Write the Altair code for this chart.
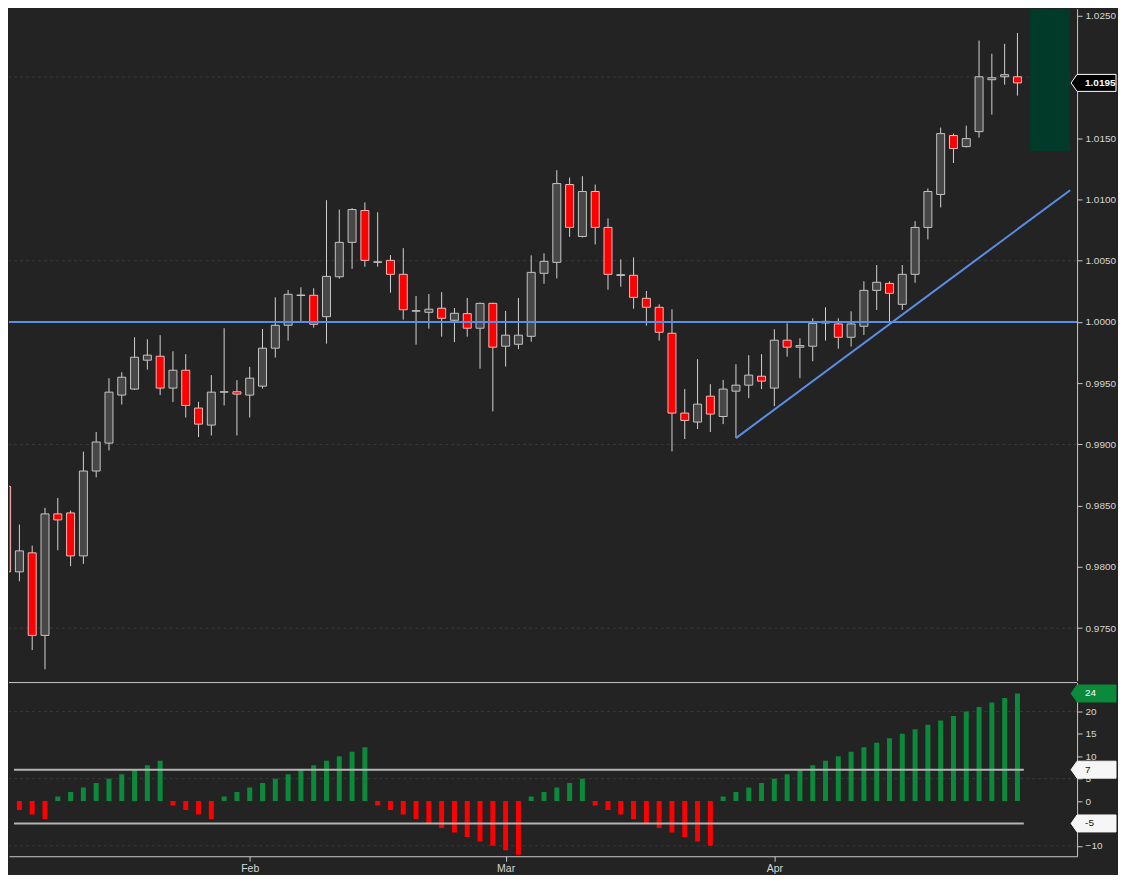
import altair as alt
import pandas as pd

# ---------------- data ----------------
opens = [0.98658, 0.97960, 0.98115, 0.97441, 0.98433, 0.98441, 0.98090, 0.98783, 0.99011, 0.99403,
         0.99452, 0.99688, 0.99720, 0.99460, 0.99606, 0.99297, 0.99158, 0.99427, 0.99430, 0.99403,
         0.99476, 0.99786, 0.99973, 1.00216, 1.00218, 1.00043, 1.00369, 1.00650, 1.00910, 1.00487,
         1.00503, 1.00389, 1.00088, 1.00079, 1.00112, 1.00014, 1.00068, 0.99949, 1.00152, 0.99802,
         0.99818, 0.99883, 1.00397, 1.00487, 1.01122, 1.00698, 1.01065, 1.00772, 1.00380, 1.00381,
         1.00193, 1.00120, 0.99908, 0.99256, 0.99183, 0.99394, 0.99228, 0.99435, 0.99484, 0.99557,
         0.99460, 0.99851, 0.99794, 0.99802, 0.99992, 0.99984, 0.99875, 0.99965, 1.00258, 1.00315,
         1.00144, 1.00389, 1.00772, 1.01041, 1.01522, 1.01432, 1.01554, 1.01978, 1.02002, 1.02002]
highs = [0.98712, 0.98346, 0.98174, 0.98482, 0.98563, 0.98460, 0.98941, 0.99101, 0.99541, 0.99590,
         0.99875, 0.99859, 0.99892, 0.99761, 0.99737, 0.99348, 0.99566, 0.99949, 0.99525, 0.99633,
         0.99943, 1.00201, 1.00261, 1.00283, 1.00275, 1.00994, 1.00918, 1.00929, 1.00976, 1.00896,
         1.00546, 1.00603, 1.00212, 1.00228, 1.00244, 1.00114, 1.00196, 1.00157, 1.00157, 1.00090,
         1.00196, 1.00544, 1.00560, 1.01239, 1.01179, 1.01190, 1.01122, 1.00845, 1.00511, 1.00527,
         1.00253, 1.00144, 1.00104, 0.99452, 0.99696, 0.99492, 0.99527, 0.99655, 0.99729, 0.99737,
         0.99941, 0.99989, 0.99867, 1.00030, 1.00120, 1.00030, 1.00087, 1.00332, 1.00465, 1.00332,
         1.00465, 1.00823, 1.01090, 1.01587, 1.01538, 1.01603, 1.02298, 1.02190, 1.02271, 1.02360]
lows = [0.97879, 0.97883, 0.97321, 0.97164, 0.98136, 0.98006, 0.98025, 0.98731, 0.98951, 0.99326,
        0.99446, 0.99611, 0.99403, 0.99346, 0.99220, 0.99060, 0.99073, 0.99318, 0.99073, 0.99220,
        0.99456, 0.99709, 0.99848, 0.99998, 0.99954, 0.99823, 1.00353, 1.00434, 1.00451, 1.00451,
        1.00239, 1.00019, 0.99815, 0.99945, 0.99880, 0.99835, 0.99880, 0.99619, 0.99269, 0.99636,
        0.99778, 0.99839, 1.00312, 1.00356, 1.00695, 1.00690, 1.00633, 1.00263, 1.00288, 1.00108,
        0.99970, 0.99848, 0.98943, 0.99044, 0.99126, 0.99101, 0.99166, 0.99052, 0.99378, 0.99452,
        0.99313, 0.99717, 0.99541, 0.99680, 0.99848, 0.99782, 0.99799, 0.99894, 1.00098, 0.99989,
        1.00098, 1.00320, 1.00674, 1.00935, 1.01298, 1.01425, 1.01505, 1.01693, 1.01937, 1.01848]
closes = [0.97960, 0.98131, 0.97441, 0.98433, 0.98384, 0.98090, 0.98783, 0.99020, 0.99427, 0.99549,
          0.99712, 0.99729, 0.99460, 0.99606, 0.99318, 0.99166, 0.99427, 0.99430, 0.99411, 0.99541,
          0.99786, 0.99973, 1.00226, 1.00220, 0.99981, 1.00372, 1.00650, 1.00918, 1.00503, 1.00491,
          1.00389, 1.00100, 1.00092, 1.00104, 1.00030, 1.00071, 0.99949, 1.00152, 0.99794, 0.99892,
          0.99892, 1.00405, 1.00495, 1.01130, 1.00772, 1.01065, 1.00772, 1.00389, 1.00386, 1.00201,
          1.00120, 0.99916, 0.99256, 0.99196, 0.99329, 0.99248, 0.99452, 0.99484, 0.99566, 0.99517,
          0.99851, 0.99794, 0.99807, 0.99989, 1.00005, 0.99875, 0.99984, 1.00258, 1.00324, 1.00234,
          1.00389, 1.00772, 1.01065, 1.01538, 1.01416, 1.01497, 1.02002, 1.01994, 1.02019, 1.01952]
hist = [-1, -2, -3, -4, 1, 2, 3, 4, 5, 6, 7, 8, 9, -1, -2, -3, -4, 1, 2, 3,
        4, 5, 6, 7, 8, 9, 10, 11, 12, -1, -2, -3, -4, -5, -6, -7, -8, -9, -10, -11,
        -12, 1, 2, 3, 4, 5, -1, -2, -3, -4, -5, -6, -7, -8, -9, -10, 1, 2, 3, 4,
        5, 6, 7, 8, 9, 10, 11, 12, 13, 14, 15, 16, 17, 18, 19, 20, 21, 22, 23, 24]

month_pos = [19, 39, 60]
month_names = ["Feb", "Mar", "Apr"]
# 1.0200 label is hidden behind the price tag in the reference
price_ticks = [0.9750, 0.9800, 0.9850, 0.9900, 0.9950, 1.0000, 1.0050, 1.0100, 1.0150, 1.0250]
price_grid = [0.9750, 0.9900, 1.0050, 1.0200]
# -5 label is hidden behind the -5 tag in the reference
osc_ticks = [-10, 0, 5, 10, 15, 20]
osc_grid = [-10, 5, 20]
osc_levels = [7, -5]
support_level = 1.0000
trend_from = [57, lows[57]]
trend_to = [83.12, 1.01076]
zone_x = [79.96, 83.12]
zone_y = [1.01396, 1.02575]

# ---------------- layout / style ----------------
W, H1, H2 = 1070, 673, 174
XDOM = [0.577, 83.27]
YDOM1 = [0.970721, 1.025571]
YDOM2 = [-12.32, 26.44]
BG = "#232323"
AXC = "#c8c8c8"
LBL = "#d6d6d6"
FONT = "Arial"
FS = 10
TAG = "M-0.6,0L0,-0.85L3.9,-0.85L3.9,0.85L0,0.85Z"

xs = alt.Scale(domain=XDOM, nice=False, zero=False)
ys1 = alt.Scale(domain=YDOM1, nice=False, zero=False)
ys2 = alt.Scale(domain=YDOM2, nice=False, zero=False)

n = len(opens)
cdf = pd.DataFrame({"i": list(range(n)), "open": opens, "high": highs, "low": lows,
                    "close": closes, "h": hist})

yaxis1 = alt.Axis(orient="right", values=price_ticks, format=".4f", grid=False, labelOverlap=False)

grid1 = alt.Chart(pd.DataFrame({"v": price_grid})).mark_rule(
    color="#393939", strokeDash=[3, 3], strokeWidth=1).encode(
    y=alt.Y("v:Q", scale=ys1, axis=yaxis1))

zone = alt.Chart(pd.DataFrame({"x1": [zone_x[0]], "x2": [zone_x[1]],
                               "y1": [zone_y[0]], "y2": [zone_y[1]]})).mark_rect(
    color="#013a29", clip=True).encode(
    x=alt.X("x1:Q", scale=xs, axis=None), x2="x2:Q",
    y=alt.Y("y1:Q", scale=ys1), y2="y2:Q")

base = alt.Chart(cdf)
wicks = base.mark_rule(color="#d2d2d2", strokeWidth=1, clip=True).encode(
    x=alt.X("i:Q", scale=xs, axis=None),
    y=alt.Y("low:Q", scale=ys1), y2="high:Q")
bodies = base.mark_bar(size=8, strokeWidth=1, clip=True).encode(
    x=alt.X("i:Q", scale=xs, axis=None),
    y=alt.Y("open:Q", scale=ys1), y2="close:Q",
    fill=alt.condition("datum.close >= datum.open", alt.value("#474747"), alt.value("#ff0000")),
    stroke=alt.condition("datum.close >= datum.open", alt.value("#c4c4c4"), alt.value("#f2b8b8")))

hline = alt.Chart(pd.DataFrame({"v": [support_level]})).mark_rule(
    color="#5a8ee6", strokeWidth=2, clip=True).encode(y=alt.Y("v:Q", scale=ys1))

trend = alt.Chart(pd.DataFrame({"x": [trend_from[0], trend_to[0]],
                                "y": [trend_from[1], trend_to[1]]})).mark_line(
    color="#5a8ee6", strokeWidth=2, clip=True).encode(
    x=alt.X("x:Q", scale=xs, axis=None), y=alt.Y("y:Q", scale=ys1))

last_close = closes[-1]
tag1_df = pd.DataFrame({"v": [last_close], "label": [f"{last_close:.4f}"]})
tag1 = alt.Chart(tag1_df).mark_point(shape=TAG, size=400, filled=True, fill="#000000",
                                      stroke="#ffffff", strokeWidth=1, opacity=1).encode(
    x=alt.value(W), y=alt.Y("v:Q", scale=ys1))
tag1_txt = alt.Chart(tag1_df).mark_text(align="left", baseline="middle", font=FONT,
                                         fontSize=FS, fontWeight="bold", color="#ffffff").encode(
    x=alt.value(W + 8), y=alt.Y("v:Q", scale=ys1), text="label:N")

upper = alt.layer(grid1, zone, wicks, bodies, hline, trend, tag1, tag1_txt).properties(
    width=W, height=H1)

# ---------------- oscillator panel ----------------
xaxis2 = alt.Axis(values=month_pos, orient="bottom", tickSize=5, labelPadding=2,
                  labelFontSize=10.5, labelOverlap=False,
                  labelExpr=" : ".join(f"datum.value == {p} ? '{m}'" for p, m in zip(month_pos, month_names)) + " : ''")
yaxis2 = alt.Axis(orient="right", values=osc_ticks, format="d", grid=False, labelOverlap=False)

grid2 = alt.Chart(pd.DataFrame({"v": osc_grid})).mark_rule(
    color="#393939", strokeDash=[3, 3], strokeWidth=1).encode(
    y=alt.Y("v:Q", scale=ys2, axis=yaxis2))

bars = alt.Chart(cdf).mark_bar(size=5, clip=True).encode(
    x=alt.X("i:Q", scale=xs, axis=xaxis2, title=None),
    y=alt.Y("h:Q", scale=ys2, axis=yaxis2), y2=alt.datum(0),
    color=alt.condition("datum.h > 0", alt.value("#0a8a3a"), alt.value("#ff0000")))

lv_df = pd.DataFrame({"v": osc_levels, "x0": [XDOM[0]] * len(osc_levels), "x1": [79.5] * len(osc_levels)})
levels = alt.Chart(lv_df).mark_rule(color="#b4b4b4", strokeWidth=2, clip=True).encode(
    x=alt.X("x0:Q", scale=xs, axis=xaxis2), x2="x1:Q",
    y=alt.Y("v:Q", scale=ys2, axis=yaxis2))

border = alt.Chart(pd.DataFrame({"a": [0]})).mark_rule(color=AXC, strokeWidth=1).encode(
    x=alt.value(0), x2=alt.value(W), y=alt.value(0))

tags2_df = pd.DataFrame({"v": [hist[-1]] + osc_levels,
                         "label": [str(hist[-1])] + [str(v) for v in osc_levels],
                         "fill": ["#0a8a3a", "#f6f6f6", "#f6f6f6"],
                         "tc": ["#ffffff", "#111111", "#111111"]})
tags2 = alt.Chart(tags2_df).mark_point(shape=TAG, size=400, filled=True, strokeWidth=1,
                                        opacity=1).encode(
    x=alt.value(W), y=alt.Y("v:Q", scale=ys2, axis=yaxis2),
    fill=alt.Fill("fill:N", scale=None), stroke=alt.Stroke("fill:N", scale=None))
tags2_txt = alt.Chart(tags2_df).mark_text(align="left", baseline="middle", font=FONT,
                                           fontSize=FS).encode(
    x=alt.value(W + 8), y=alt.Y("v:Q", scale=ys2, axis=yaxis2), text="label:N",
    color=alt.Color("tc:N", scale=None))

lower = alt.layer(grid2, bars, levels, border, tags2, tags2_txt).properties(width=W, height=H2)

chart = alt.vconcat(upper, lower, spacing=1).properties(
    padding=0, background=BG
).configure_view(stroke=None).configure_axis(
    domainColor=AXC, tickColor=AXC, labelColor=LBL, labelFont=FONT, labelFontSize=FS,
    tickSize=5, labelPadding=3, grid=False, title=None
)

chart.save("out.html", embed_options={"renderer": "svg", "actions": False})
